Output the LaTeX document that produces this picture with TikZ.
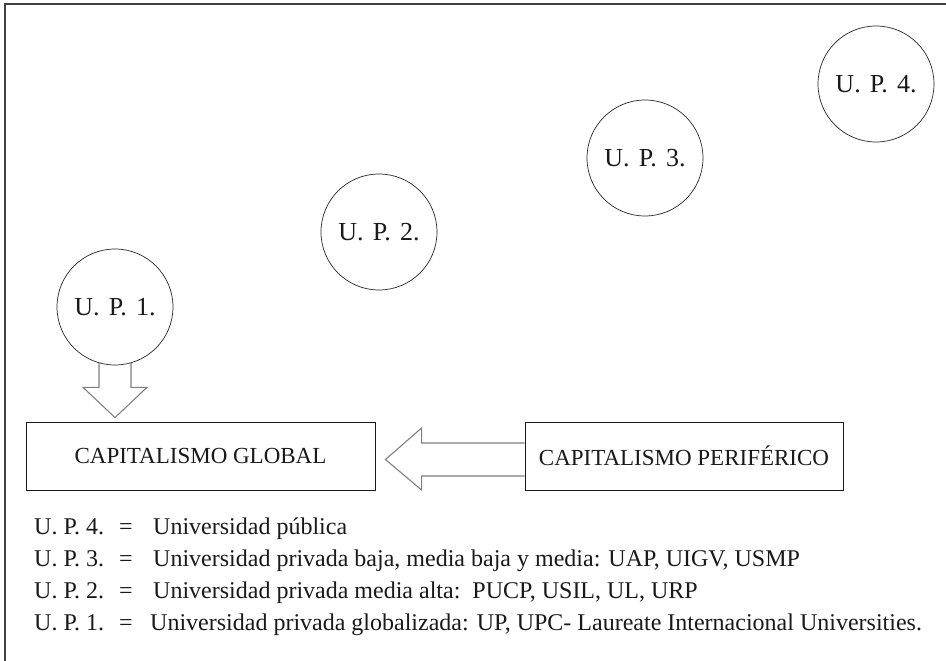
\documentclass[tikz,border=0pt]{standalone}
\usepackage{fontspec}
\setmainfont{Liberation Serif}
\newfontfamily\spacedfont{Liberation Serif}[WordSpace=1.4]
\usetikzlibrary{positioning,calc}
\begin{document}
\begin{tikzpicture}[x=1pt,y=-1pt,
    every node/.style={font=\fontsize{24}{28}\selectfont,text=black!90},
    univ/.style={circle,draw=black!85,line width=0.7pt,minimum size=116pt,inner sep=0pt,
      font=\spacedfont\fontsize{26}{30}\selectfont},
    capbox/.style={draw=black!90,line width=0.9pt,minimum width=349pt,minimum height=68pt,inner sep=0pt,
      font=\fontsize{23}{27}\selectfont},
    fatarrow/.style={draw=black!50,line width=1.1pt,line join=miter},
    legend/.style={anchor=base west,inner sep=0pt}]
    \useasboundingbox (0,0) rectangle (946,661);
    \draw[line width=1.2pt,black!75] (5,661) -- (5,4) -- (946,4);

    \node[univ] (up1) at (115,307) {U. P. 1.};
    \node[univ] (up2) at (379,232) {U. P. 2.};
    \node[univ] (up3) at (645,158) {U. P. 3.};
    \node[univ] (up4) at (876,84) {U. P. 4.};

    \node[capbox] (global) at (200.5,456) {CAPITALISMO GLOBAL};
    \node[capbox,minimum width=318pt] (periferico) at (684,456) {CAPITALISMO PERIFÉRICO};

    \draw[fatarrow] ($(up1.south)+(-16,-2.3)$) -- ++(0,24.3) -- ++(-16,0) -- ($(up1.south |- global.north)+(0,-4)$)
      -- ($(up1.south)+(32,22)$) -- ++(-16,0) -- ++(0,-24.3);
    \draw[fatarrow] ($(periferico.west)+(0,-13)$) -- ++(-103,0) -- ++(0,-15) -- ($(global.east)+(10,3.5)$)
      -- ($(periferico.west)+(-103,34)$) -- ++(0,-14) -- ++(103,0);

    \foreach \k/\y in {4/534,3/566,2/598,1/630} {
      \node[legend] (key\k) at (34,\y) {U. P. \k.};
      \node[legend] (eq\k) at (119,\y) {=};
    }
    \node[legend] (desc4) at (153,534) {Universidad pública};
    \node[legend] (desc3) at (153,566) {Universidad privada baja, media baja y media: UAP, UIGV, USMP};
    \node[legend] (desc2) at (153,598) {Universidad privada media alta:\ \ PUCP, USIL, UL, URP};
    \node[legend] (desc1) at (150,630) {Universidad privada globalizada: UP, UPC- Laureate Internacional Universities.};
\end{tikzpicture}
\end{document}
